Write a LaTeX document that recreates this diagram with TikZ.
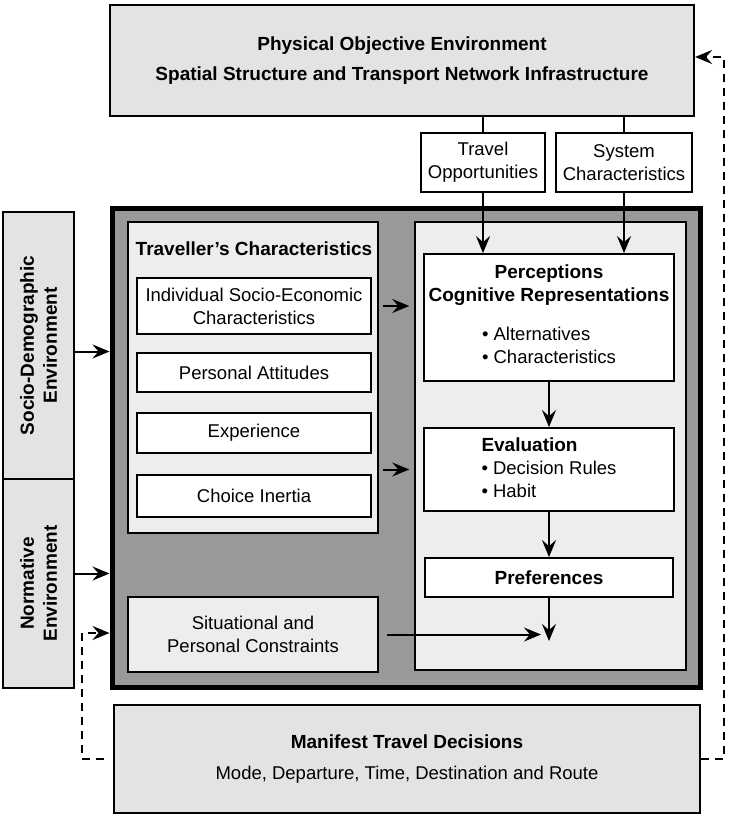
\documentclass[tikz,border=0pt]{standalone}
\usepackage{fontspec}
\setmainfont{Liberation Sans}
\usetikzlibrary{arrows.meta,positioning}

\definecolor{envgrey}{gray}{0.89}
\definecolor{framegrey}{gray}{0.6}
\definecolor{panelgrey}{gray}{0.93}
\newcommand\hd{\fontsize{19}{23}\bfseries}

\tikzset{
  envbox/.style={draw,line width=1.8pt,fill=envgrey,inner sep=0pt,align=center},
  itembox/.style={draw,line width=1.8pt,fill=white,inner sep=0pt,align=center},
  panel/.style={draw,line width=1.5pt,fill=panelgrey,inner sep=0pt,align=center},
  flow/.style={line width=2pt},
  flowto/.style={line width=2pt,-{Stealth[length=17pt,width=14pt,inset=6pt]}},
  feedback/.style={line width=2pt,dash pattern=on 8pt off 6pt,-{Stealth[length=17pt,width=14pt,inset=6pt]}},
}

\begin{document}
\begin{tikzpicture}[x=1pt,y=-1pt,font=\fontsize{18.5}{23}\selectfont]
    \useasboundingbox (0,0) rectangle (729,816);

    % physical environment and what it offers
    \node[envbox,line width=2.2pt,minimum width=584pt,minimum height=111pt] (phys) at (402,60.5)
        {\hd Physical Objective Environment\\[7pt]\hd Spatial Structure and Transport Network Infrastructure};
    \node[itembox,minimum width=124pt,minimum height=59pt] (travopp) at (483,162.5) {Travel\\Opportunities};
    \node[itembox,minimum width=136pt,minimum height=59pt] (syschar) at (624,162.5) {System\\Characteristics};

    % environments on the left
    \node[envbox,minimum width=71pt,minimum height=267pt] (socio) at (38.5,345.5) {};
    \node[envbox,minimum width=71pt,minimum height=209pt] (norm) at (38.5,583.5) {};
    \node[rotate=90,align=center] (sociotext) at (socio) {\hd Socio-Demographic\\\hd Environment};
    \node[rotate=90,align=center] (normtext) at (norm) {\hd Normative\\\hd Environment};

    % the decision process
    \node[draw,line width=5pt,fill=framegrey,minimum width=588pt,minimum height=479pt] (frame) at (406,447.5) {};
    \node[panel,minimum width=250pt,minimum height=311pt] (travpanel) at (253,377.5) {};
    \node[panel,minimum width=271pt,minimum height=448pt] (rpanel) at (550.5,446) {};
    \node[panel,minimum width=250pt,minimum height=75pt] (situ) at (253,634.5) {Situational and\\Personal Constraints};

    % traveller's characteristics
    \node (trtitle) at (254,249) {\hd Traveller's Characteristics};
    \node[itembox,minimum width=234pt,minimum height=56pt] (indiv) at (254,306) {Individual Socio-Economic\\Characteristics};
    \node[itembox,minimum width=234pt,minimum height=39pt] (attit) at (254,372.5) {Personal Attitudes};
    \node[itembox,minimum width=234pt,minimum height=40pt] (exper) at (254,433) {Experience};
    \node[itembox,minimum width=234pt,minimum height=42pt] (inert) at (254,496) {Choice Inertia};

    % perception, evaluation, preference
    \node[itembox,minimum width=250pt,minimum height=127pt] (percep) at (549,317.5)
        {{\hd Perceptions}\\{\hd Cognitive Representations}\\[18pt]
         \begin{tabular}{@{}l@{}}• Alternatives\\• Characteristics\end{tabular}};
    \node[itembox,minimum width=250pt,minimum height=83pt] (evalu) at (549,469.5)
        {\begin{tabular}{@{}l@{}}{\hd Evaluation}\\• Decision Rules\\• Habit\end{tabular}};
    \node[itembox,minimum width=248pt,minimum height=39pt] (prefs) at (549,577.5) {\hd Preferences};
    \coordinate (choice) at (549,641);

    % manifest decisions
    \node[envbox,minimum width=586pt,minimum height=108pt] (manif) at (407,759)
        {\hd Manifest Travel Decisions\\[8pt]Mode, Departure, Time, Destination and Route};

    % draw the flows
    \draw[flow] (phys.south -| travopp) -- (travopp.north);
    \draw[flow] (phys.south -| syschar) -- (syschar.north);
    \draw[flowto] (travopp.south) -- (travopp.south |- percep.north);
    \draw[flowto] (syschar.south) -- (syschar.south |- percep.north);
    \draw[flowto] (percep) -- (evalu);
    \draw[flowto] (evalu) -- (prefs);
    \draw[flowto] (prefs) -- (choice);
    \draw[flowto,shorten <=8pt,shorten >=8pt] (situ.east) -- (situ.east -| choice);
    \draw[flowto,shorten <=4pt,shorten >=5pt] (travpanel.east |- indiv) -- (rpanel.west |- indiv);
    \draw[flowto,shorten <=4pt,shorten >=5pt] (travpanel.east |- evalu) -- (rpanel.west |- evalu);
    \draw[flowto] ([yshift=-6pt]socio.east) -- ([yshift=-6pt]socio.east -| frame.west);
    \draw[flowto] ([yshift=10pt]norm.east) -- ([yshift=10pt]norm.east -| frame.west);

    % draw the feedback
    \coordinate (lbend) at (82,633);
    \coordinate (rbend) at (724,57);
    \draw[feedback] ([xshift=-9pt]manif.west) -| (lbend) -- (lbend -| frame.west);
    \draw[feedback] (manif.east) -| (rbend) -- (rbend -| phys.east);
\end{tikzpicture}
\end{document}
